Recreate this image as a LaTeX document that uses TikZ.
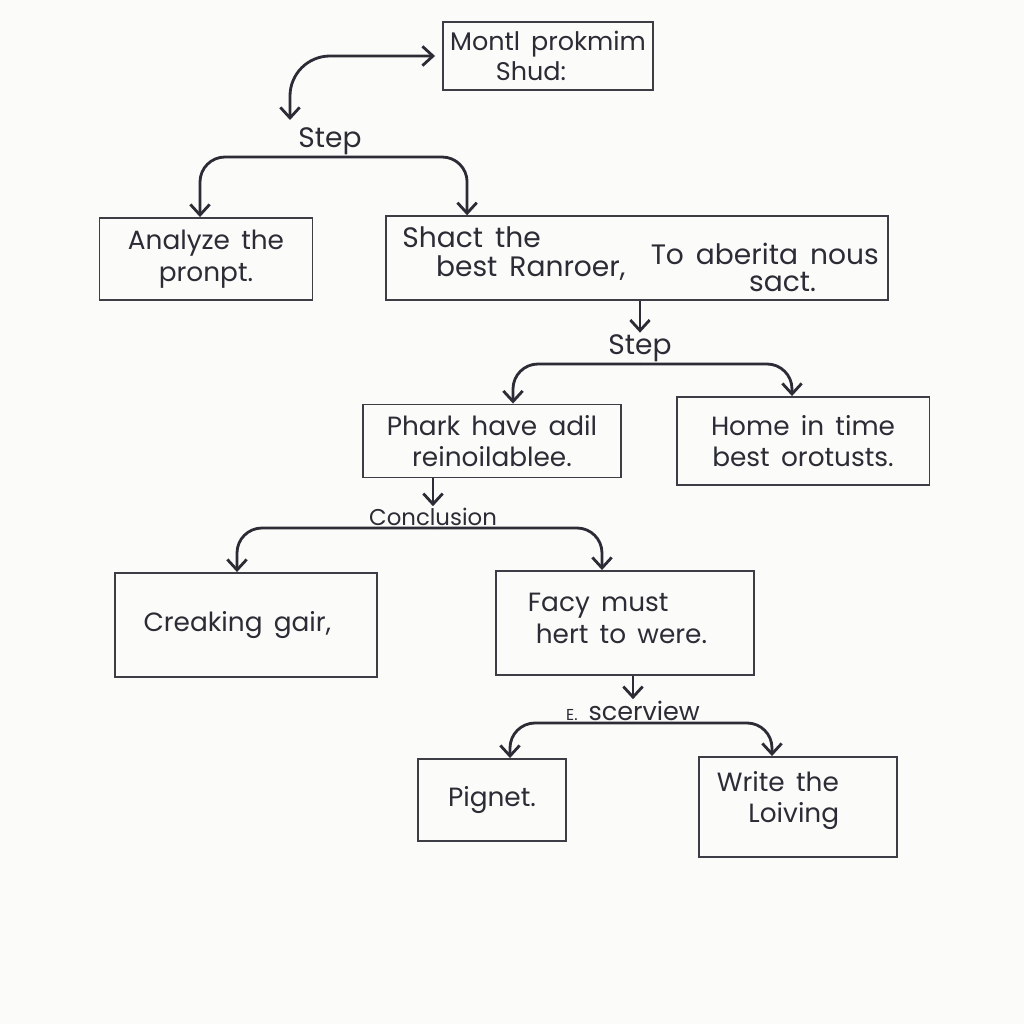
\documentclass[tikz,border=0pt]{standalone}
\usepackage{fontspec}
\setmainfont[WordSpace=1.6]{Poppins}
\usepackage{tikz}
\usepackage{xcolor}
\usetikzlibrary{arrows.meta,positioning,calc}
\definecolor{paper}{HTML}{FBFBF9}
\definecolor{ink}{HTML}{2B2C35}
\definecolor{inkgray}{HTML}{3C3D45}
\tikzset{
  box/.style={draw=inkgray,line width=1.1pt,inner sep=0pt,text=ink,align=center,
    font=\fontsize{15}{18}\selectfont},
  lbl/.style={text=ink,inner sep=1pt,font=\fontsize{13}{15}\selectfont},
  arr/.style={draw=ink,line width=1.6pt,rounded corners=0.5cm,
    -{Straight Barb[length=6pt,width=11pt]}},
  dblarr/.style={draw=ink,line width=1.6pt,rounded corners=0.8cm,
    {Straight Barb[length=6pt,width=11pt]}-{Straight Barb[length=6pt,width=11pt]}}
}
\begin{document}
\begin{tikzpicture}[x=0.02cm,y=-0.02cm]
      \fill[paper] (0,0) rectangle (1024,1024);
      \useasboundingbox (0,0) rectangle (1024,1024);
      \node[box,minimum width=4.2cm,minimum height=1.36cm,align=left,font=\fontsize{14.5}{17}\selectfont] (top) at (548,56)
        {Montl prokmim\\\hspace*{1.8em}Shud:};
      \node[box,minimum width=4.26cm,minimum height=1.64cm] (ana) at (206,259)
        {Analyze the\\pronpt.};
      \node[box,minimum width=10.04cm,minimum height=1.6cm,font=\fontsize{16}{15}\selectfont] (sel) at (637,258)
        {\rule{0pt}{34pt}\hspace*{4pt}\begin{tabular}[b]{@{}l@{}}Shact the\\\hspace*{1.2em}best Ranroer,\end{tabular}\hspace{0.9em}%
         \raisebox{-9pt}{\begin{tabular}[b]{@{}l@{}}To aberita nous\\\hspace*{3.5em}sact.\end{tabular}}};
      \node[box,minimum width=5.16cm,minimum height=1.46cm] (pha) at (492,441)
        {Phark have adil\\reinoilablee.};
      \node[box,minimum width=5.06cm,minimum height=1.76cm] (hom) at (803,441)
        {Home in time\\best orotusts.};
      \node[box,minimum width=5.24cm,minimum height=2.08cm] (cre) at (246,625)
        {Creaking gair,\rule{0.35cm}{0pt}};
      \node[box,minimum width=5.16cm,minimum height=2.08cm,align=left] (fac) at (625,623)
        {Facy must\\\hspace*{0.3em}hert to were.\rule[-0.2cm]{0.3cm}{0pt}};
      \node[box,minimum width=2.96cm,minimum height=1.64cm] (pig) at (492,800)
        {Pignet.};
      \node[box,minimum width=3.96cm,minimum height=2cm,align=left] (wri) at (798,807)
        {Write the\\\hspace*{1.2em}Loiving\rule[-0.4cm]{0.8cm}{0pt}};
      % branch points
      \coordinate (c0) at (290,120);
      \coordinate (j1) at (330,157);
      \coordinate (j2) at (640,364);
      \coordinate (j3) at (433,528);
      \coordinate (j4) at (633,723);
      \node[lbl,above=0pt of j1,font=\fontsize{16}{18}\selectfont] (s1) {Step};
      \node[lbl,above=0pt of j2,font=\fontsize{16}{18}\selectfont] (s2) {Step};
      \node[lbl,above=0pt of j3] (con) {Conclusion};
      \node[lbl,above=0pt of j4,font=\fontsize{14.5}{16}\selectfont] (scv) {{\fontsize{9}{11}\selectfont E.} scerview};
      \draw[dblarr,shorten >=4pt] (c0) |- (top.west);
      \draw[arr] (j1) -| ($(ana.north)+(-6,0)$);
      \draw[arr] (j1) -| ($(sel.north west)+(82,0)$);
      \draw[arr] (sel.south -| s2.north) -- (s2.north);
      \draw[arr] (j2) -| ($(pha.north)+(21,0)$);
      \draw[arr] (j2) -| ($(hom.north)+(-11,0)$);
      \draw[arr] (pha.south -| con.north) -- (con.north);
      \draw[arr] (j3) -| ($(cre.north)+(-9,0)$);
      \draw[arr] (j3) -| ($(fac.north)+(-23,0)$);
      \draw[arr] (fac.south -| scv.north) -- (scv.north);
      \draw[arr] (j4) -| ($(pig.north)+(18,0)$);
      \draw[arr] (j4) -| ($(wri.north)+(-26,0)$);
    \end{tikzpicture}
\end{document}
